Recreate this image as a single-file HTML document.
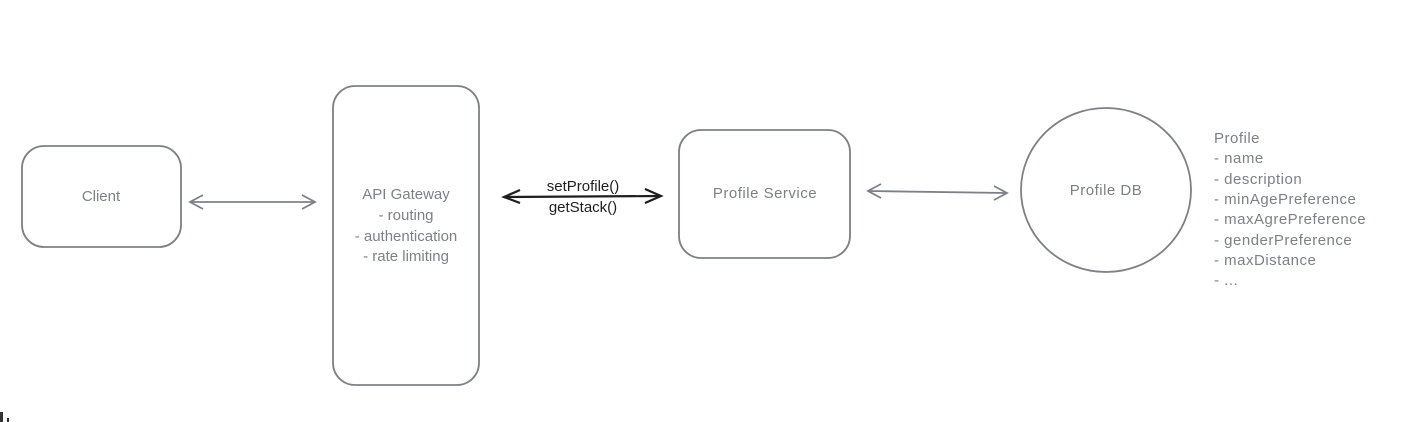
<!DOCTYPE html>
<html><head><meta charset="utf-8"><style>
html,body{margin:0;padding:0;background:#fff;}
svg{display:block;}
text{font-family:"Liberation Sans",sans-serif;}
</style></head><body>
<svg width="1426" height="422" viewBox="0 0 1426 422" xmlns="http://www.w3.org/2000/svg">
<g fill="none" stroke="#7d8088" stroke-width="1.8">
<rect x="22" y="146" width="159" height="101" rx="22"/>
<rect x="333" y="86" width="146" height="299" rx="22"/>
<rect x="679" y="130" width="171" height="128" rx="22"/>
<ellipse cx="1106" cy="190" rx="85" ry="82"/>
<line x1="190" y1="202" x2="315" y2="202"/>
<polyline points="203,195 190,202 203,209"/>
<polyline points="302,195 315,202 302,209"/>
<line x1="868" y1="191" x2="1007" y2="193"/>
<polyline points="881,184 868,191 881,198"/>
<polyline points="994,186 1007,193 994,200"/>
</g>
<g fill="none" stroke="#1e1e1e" stroke-width="2.2">
<line x1="504" y1="197" x2="661" y2="196"/>
<polyline points="520,190 504,197 520,203"/>
<polyline points="645,189 661,196 645,203"/>
</g>
<g fill="#7d8088" font-size="15" text-anchor="middle">
<text x="101" y="201">Client</text>
<text x="406" y="199">API Gateway</text>
<text x="406" y="220">- routing</text>
<text x="406" y="241">- authentication</text>
<text x="406" y="261">- rate limiting</text>
<text x="765" y="198" letter-spacing="0.5">Profile Service</text>
<text x="1106" y="195" letter-spacing="0.5">Profile DB</text>
</g>
<g fill="#1e1e1e" font-size="15" text-anchor="middle">
<text x="583" y="191">setProfile()</text>
<text x="583" y="212">getStack()</text>
</g>
<g fill="#7d8088" font-size="15" letter-spacing="0.5">
<text x="1214" y="143">Profile</text>
<text x="1214" y="163">- name</text>
<text x="1214" y="184">- description</text>
<text x="1214" y="204">- minAgePreference</text>
<text x="1214" y="224">- maxAgrePreference</text>
<text x="1214" y="245">- genderPreference</text>
<text x="1214" y="265">- maxDistance</text>
<text x="1214" y="285">- ...</text>
</g>
<rect x="0" y="412" width="3" height="10" fill="#333"/>
<rect x="7" y="418" width="2" height="4" fill="#333"/>
</svg>
</body></html>
